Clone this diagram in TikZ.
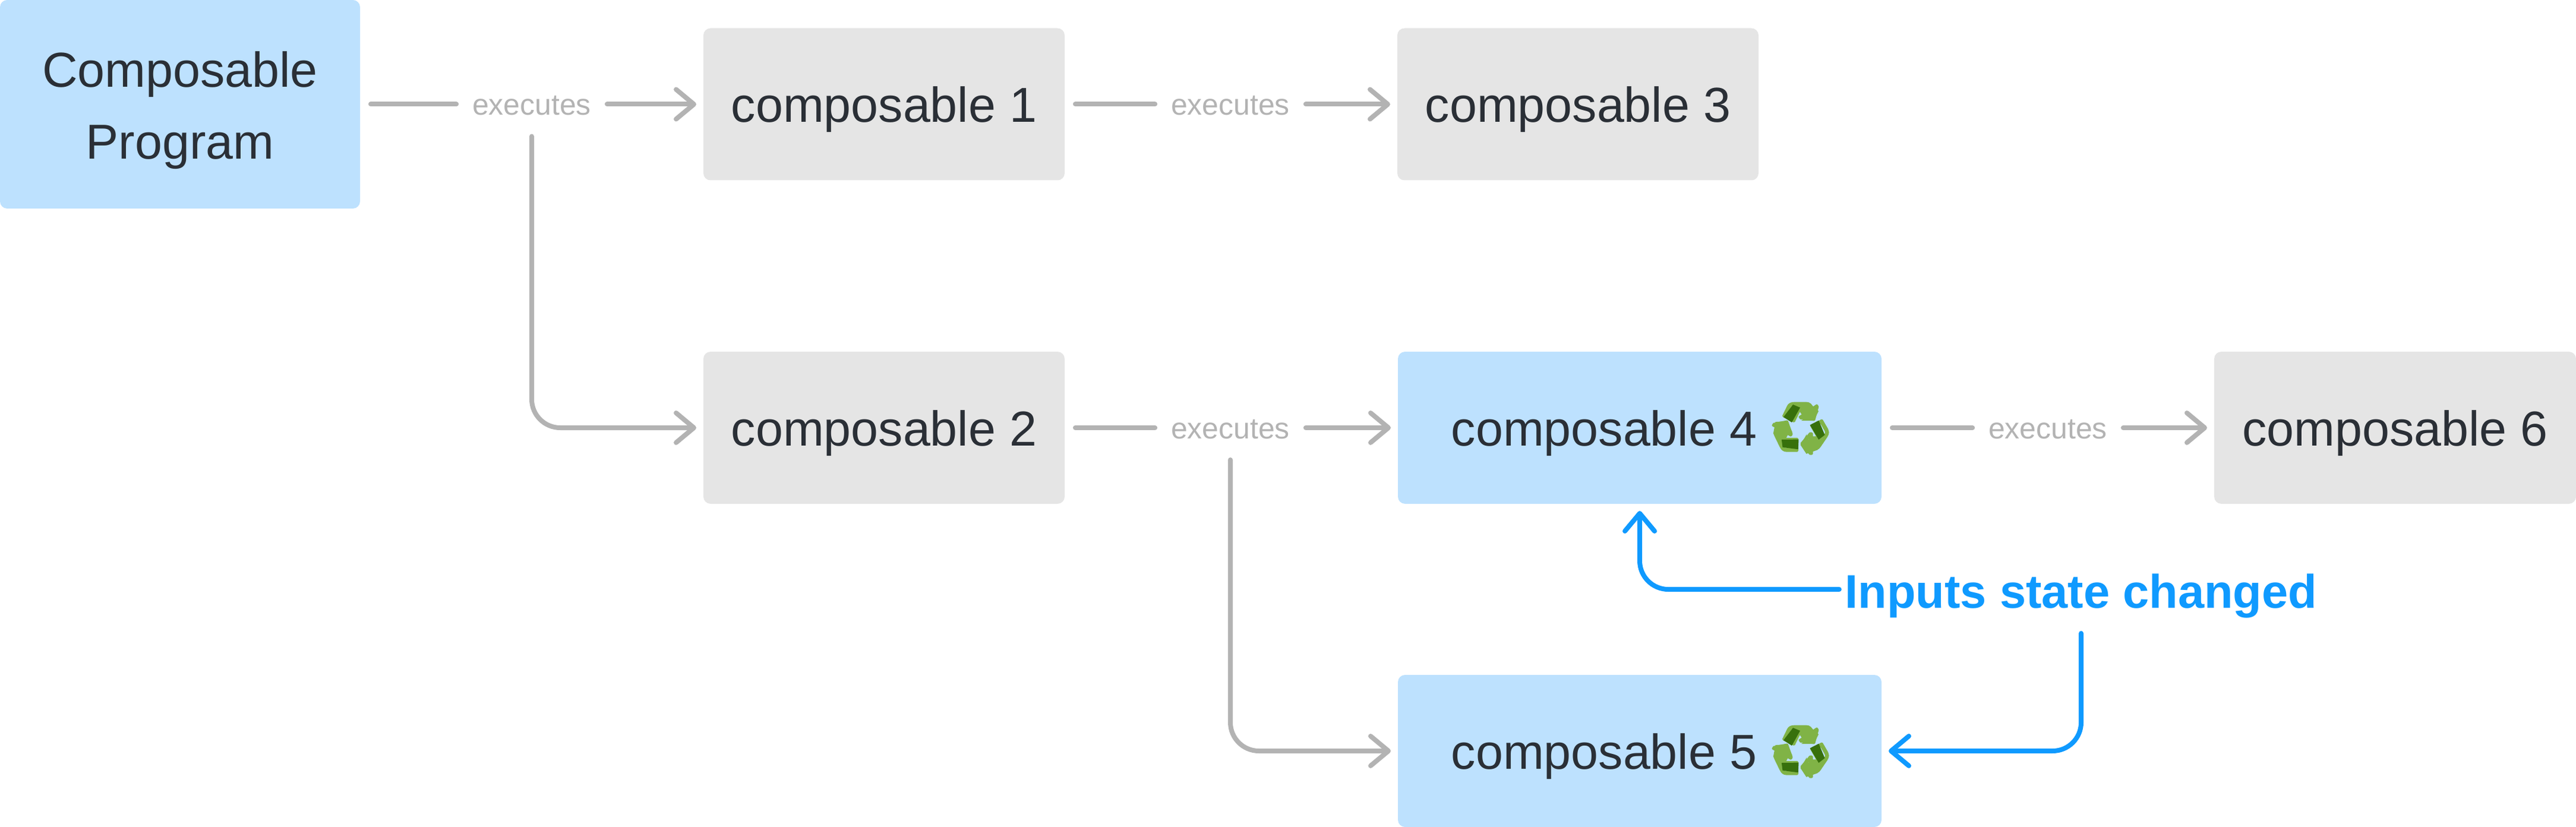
\documentclass[tikz,border=0pt]{standalone}
\usepackage{fontspec}
\setmainfont{Liberation Sans}
\newfontfamily\emojifont[FakeBold=4]{Noto Emoji}
\usetikzlibrary{arrows.meta}
\definecolor{boxblue}{HTML}{BDE1FE}
\definecolor{boxgray}{HTML}{E5E5E5}
\definecolor{inkdark}{HTML}{2A2F36}
\definecolor{linegray}{HTML}{B3B3B3}
\definecolor{linkblue}{HTML}{0F9AFF}
\definecolor{leaflight}{HTML}{80B346}
\definecolor{leafdark}{HTML}{37700C}
\tikzset{
	box/.style={rounded corners=.12cm, anchor=center, inner sep=0, outer sep=.12cm, text=inkdark, font=\fontsize{23.5}{34.4}\selectfont, text height=.6cm, text depth=0cm, minimum height=2.56cm},
	tip/.style={-{Straight Barb[length=.3cm,width=.5cm,line width=.08cm,round]}},
	link/.style={line width=.08cm, line cap=round, line join=round, rounded corners=.48cm, tip},
	plain/.style={line width=.08cm, shorten <=.06cm},
	exec/.style={text=linegray, font=\fontsize{14.2}{16}\selectfont, inner sep=0, outer sep=.27cm, minimum height=.54cm, text height=.36cm, text depth=0cm},
}
\newcommand{\recycle}{\kern-.03cm{\emojifont\fontsize{24}{24}\selectfont\textcolor{leaflight}{\symbol{"267B}}}}
\begin{document}
\begin{tikzpicture}[line join=round, line cap=round]
	\useasboundingbox (0,0) rectangle (43.36,-13.92);
	\node[box, fill=boxblue, minimum width=6.06cm, minimum height=3.51cm, align=center, text height=2.01cm, text depth=.17cm] (program) at (3.03,-1.755) {Composable\\Program};
	\node[box, fill=boxgray, minimum width=6.08cm] (c1) at (14.88,-1.755) {composable 1};
	\node[box, fill=boxgray, minimum width=6.08cm] (c2) at (14.88,-7.2) {composable 2};
	\node[box, fill=boxgray, minimum width=6.08cm] (c3) at (26.56,-1.755) {composable 3};
	\node[box, fill=boxblue, minimum width=8.14cm] (c4) at (27.6,-7.2) {\hspace*{.07cm}composable 4 \recycle};
	\node[box, fill=boxblue, minimum width=8.14cm] (c5) at (27.6,-12.64) {\hspace*{.07cm}composable 5 \recycle};
	\node[box, fill=boxgray, minimum width=6.09cm] (c6) at (40.315,-7.2) {composable 6};
	
	\node[exec] (e1) at (8.95,-1.755) {executes};
	\node[exec] (e2) at (20.71,-1.755) {executes};
	\node[exec] (e3) at (20.71,-7.2) {executes};
	\node[exec] (e4) at (34.47,-7.2) {executes};
	\node[text=linkblue, font=\fontsize{22.6}{26}\selectfont\bfseries, inner sep=0, outer sep=.1cm, text height=.95cm, text depth=.33cm] (changed) at (35.03,-9.92) {Inputs state changed};
	
	\draw[plain, linegray] (program.east) -- (e1.west);
	\draw[plain, linegray] (c1.east) -- (e2.west);
	\draw[plain, linegray] (c2.east) -- (e3.west);
	\draw[plain, linegray] (c4.east) -- (e4.west);
	\draw[link, linegray] (e1.east) -- (c1.west);
	\draw[link, linegray] (e2.east) -- (c3.west);
	\draw[link, linegray] (e3.east) -- (c4.west);
	\draw[link, linegray] (e4.east) -- (c6.west);
	\draw[link, linegray] (e1.south) |- (c2.west);
	\draw[link, linegray] (e3.south) |- (c5.west);
	\draw[link, linkblue] (changed.west) -| (c4.south);
	\draw[link, linkblue] (changed.south) |- (c5.east);
	
	% recycling arrows
	\foreach \n in {c4,c5}
	\foreach \a in {0,120,240} {
		\begin{scope}[shift={(\n.center)}, xshift=2.7cm, yshift=-.02cm, rotate=\a]
			\fill[leaflight] (-.12,.41) -- (.16,.43) -- (.31,.30) -- (.23,.14) -- (.02,.14) -- (.10,.19) -- (0,.36) -- cycle;
			\fill[leafdark] (-.28,.20) -- (-.12,.41) -- (0,.36) -- (-.14,.11) -- cycle;
		\end{scope}
	}
\end{tikzpicture}
\end{document}
